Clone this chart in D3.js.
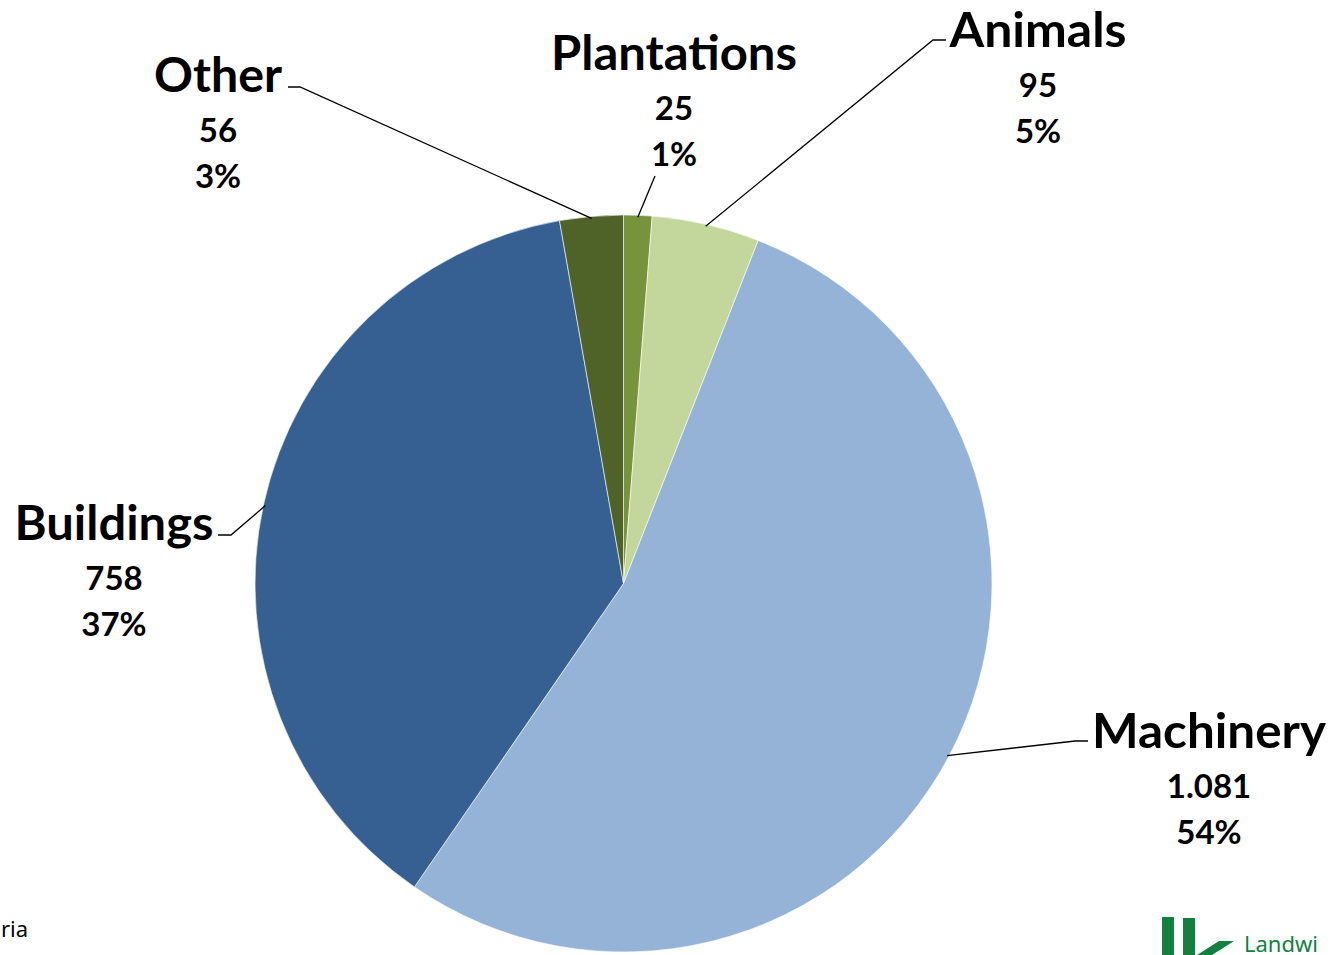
<!DOCTYPE html>
<html><head><meta charset="utf-8">
<script src="https://cdn.jsdelivr.net/npm/d3@7/dist/d3.min.js"></script>
<style>
html,body{margin:0;padding:0;background:#fff;}
svg{display:block;}
text{font-family:Lato,"Open Sans",sans-serif;font-weight:bold;fill:#000;}
</style></head>
<body>
<svg id="chart" width="1332" height="955"></svg>
<script>
const categories = ["Plantations", "Animals", "Machinery", "Buildings", "Other"];
const values = [25, 95, 1081, 758, 56];
const valueLabels = ["25", "95", "1.081", "758", "56"];
const percentLabels = ["1%", "5%", "54%", "37%", "3%"];
const colors = ["#77933C", "#C3D69B", "#95B3D7", "#376092", "#4F6228"];

// label layout (positions of label block, elbow points)
const layout = {
  Plantations: {x: 674, y: 70, nameW: 246, elbow: null, anchor: [655, 176]},
  Animals:     {x: 1038, y: 47, nameW: 177, elbow: [933, 40], anchor: [946, 40]},
  Machinery:   {x: 1209, y: 748, nameW: 234, elbow: [1075, 741], anchor: [1088, 741]},
  Buildings:   {x: 114, y: 540, nameW: 199, elbow: [231, 535], anchor: [218, 535]},
  Other:       {x: 218, y: 92, nameW: 128, elbow: [300, 87], anchor: [288, 87]}
};

const svg = d3.select("#chart");
const cx = 623.5, cy = 583.5, R = 368.5;
const g = svg.append("g").attr("transform", `translate(${cx},${cy})`);

const data = categories.map((c, i) => ({name: c, value: values[i], vl: valueLabels[i], pl: percentLabels[i], color: colors[i]}));
const pie = d3.pie().value(d => d.value).sort(null);
const arcs = pie(data);
const arc = d3.arc().innerRadius(0).outerRadius(R);

g.selectAll("path.slice").data(arcs).enter().append("path")
  .attr("class", "slice")
  .attr("d", arc)
  .attr("fill", d => d.data.color)
  .attr("stroke", "#ffffff")
  .attr("stroke-width", 0.6);

// leader lines
const edgeArc = d3.arc().innerRadius(R - 2).outerRadius(R - 2);
arcs.forEach(d => {
  const L = layout[d.data.name];
  const c = edgeArc.centroid(d);
  const p0 = [c[0] + cx, c[1] + cy];
  const pts = [L.anchor];
  if (L.elbow) pts.push(L.elbow);
  pts.push(p0);
  svg.append("path")
    .attr("d", d3.line()(pts))
    .attr("fill", "none")
    .attr("stroke", "#000")
    .attr("stroke-width", 1.3);
});

// labels
arcs.forEach(d => {
  const L = layout[d.data.name];
  svg.append("text").attr("x", L.x).attr("y", L.y)
    .attr("text-anchor", "middle").attr("font-size", 47)
    .attr("textLength", L.nameW).attr("lengthAdjust", "spacingAndGlyphs")
    .text(d.data.name);
  svg.append("text").attr("x", L.x).attr("y", L.y + 50)
    .attr("text-anchor", "middle").attr("font-size", 33)
    .text(d.data.vl);
  svg.append("text").attr("x", L.x).attr("y", L.y + 96)
    .attr("text-anchor", "middle").attr("font-size", 33)
    .text(d.data.pl);
});

// visible fragment of source note
svg.append("text").attr("x", 1).attr("y", 937)
  .attr("font-size", 22).style("font-weight", "normal")
  .style("font-family", "'Noto Sans',sans-serif").text("ria");

// logo (partially visible)
const green = "#13803f";
svg.append("rect").attr("x", 1162).attr("y", 917).attr("width", 12).attr("height", 40).attr("fill", green);
svg.append("rect").attr("x", 1183).attr("y", 918).attr("width", 12).attr("height", 40).attr("fill", green);
svg.append("path").attr("d", "M1197,955 L1219,941 L1234,941 L1212,955 Z").attr("fill", green);
svg.append("text").attr("x", 1244).attr("y", 952).attr("font-size", 22)
  .style("font-weight", "normal").style("font-family", "'Noto Sans',sans-serif")
  .style("fill", green).text("Landwi");
</script>
</body></html>
